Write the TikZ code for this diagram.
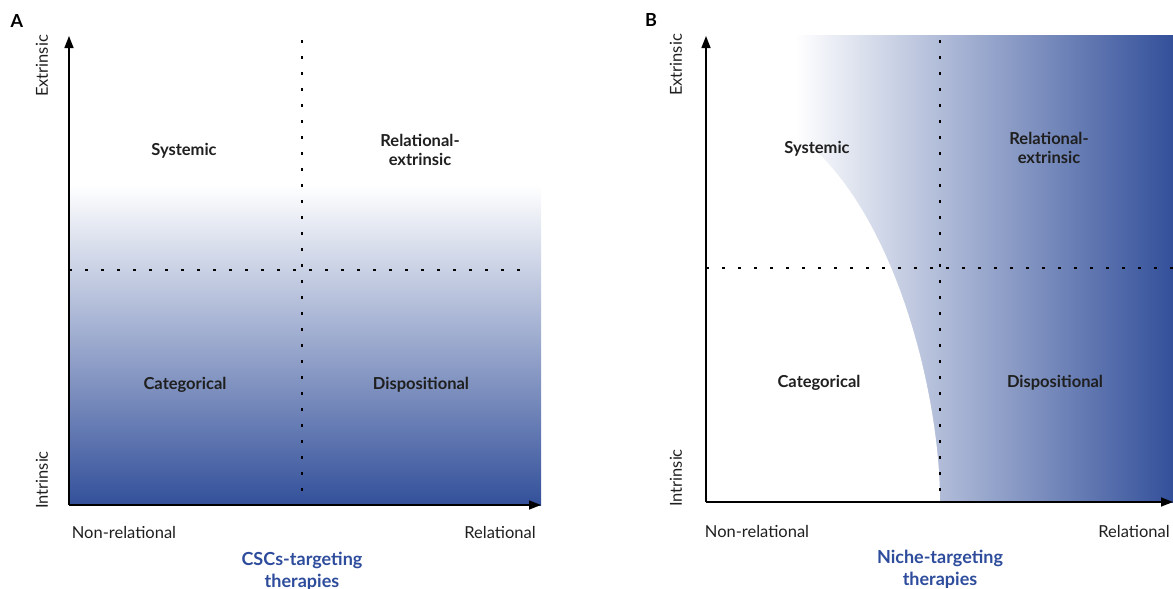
\documentclass[tikz,border=0pt]{standalone}
\usepackage{fontspec}
\setmainfont{Lato}
\usetikzlibrary{arrows.meta}
\definecolor{cscblue}{RGB}{51,80,154}
\definecolor{titleblue}{RGB}{46,76,156}
\tikzset{axis/.style={black, line width=1.4pt, -{Triangle[length=12pt,width=9pt]}},
         divider/.style={black, line width=1.5pt, dash pattern=on 2.5pt off 13.5pt},
         quad/.style={font=\fontsize{16.5}{18.5}\selectfont\bfseries, align=center, text=black!88},
         axlabel/.style={font=\fontsize{16.5}{18}\selectfont, text=black!88},
         panel/.style={font=\fontsize{18}{20}\selectfont\bfseries},
         therapy/.style={font=\fontsize{18}{22}\selectfont\bfseries, text=titleblue, align=center}}

\begin{document}
\begin{tikzpicture}[x=1pt,y=-1pt]
   \useasboundingbox (0,0) rectangle (1173,589);
   % A: CSCs-targeting
   \begin{scope}
    \coordinate (o) at (69,505);
    \coordinate (y) at (69,36);
    \coordinate (x) at (541,505);
    \coordinate (v1) at (302,40);
    \coordinate (v2) at (302,505);
    \coordinate (h1) at (69,270);
    \coordinate (h2) at (532,270);
    \shade[top color=white, bottom color=cscblue] (69,185) rectangle (541,505);
    \draw[divider] (v1) -- (v2);
    \draw[divider] (h1) -- (h2);
    \draw[axis] (o) -- (y);
    \draw[axis] (o) -- (x);
    \node[panel] (lab) at (17,21) {A};
    \node[axlabel, rotate=90] (ext) at (42,66) {Extrinsic};
    \node[axlabel, rotate=90] (int) at (42,480) {Intrinsic};
    \node[quad] (sys) at (184,151) {Systemic};
    \node[quad] (relext) at (420,150) {Relational-\\extrinsic};
    \node[quad] (cat) at (185,385) {Categorical};
    \node[quad] (disp) at (421,385) {Dispositional};
    \node[axlabel] (nonrel) at (124,532) {Non-relational};
    \node[axlabel] (rel) at (500,532) {Relational};
    \node[therapy, anchor=north] (ther) at (302,549) {CSCs-targeting\\therapies};
   \end{scope}
   % B: Niche-targeting
   \begin{scope}
    \coordinate (o) at (706,502);
    \coordinate (y) at (706,36);
    \coordinate (x) at (1173,502);
    \coordinate (v1) at (940,40);
    \coordinate (v2) at (940,502);
    \coordinate (h1) at (706,268);
    \coordinate (h2) at (1173,268);
    \shade[left color=white, right color=cscblue] (795,35) rectangle (1173,502);
    \fill[white] (o) -- (v2) .. controls (940,400) and (900,230) .. (815,150) -- (706,150) -- cycle;
    \draw[divider] (v1) -- (v2);
    \draw[divider] (h1) -- (h2);
    \draw[axis] (o) -- (y);
    \draw[axis] (o) -- (x);
    \node[panel] (lab) at (651,20) {B};
    \node[axlabel, rotate=90] (ext) at (676,65) {Extrinsic};
    \node[axlabel, rotate=90] (int) at (676,478) {Intrinsic};
    \node[quad] (sys) at (817,149) {Systemic};
    \node[quad] (relext) at (1049,148) {Relational-\\extrinsic};
    \node[quad] (cat) at (819,383) {Categorical};
    \node[quad] (disp) at (1055,383) {Dispositional};
    \node[axlabel] (nonrel) at (757,531) {Non-relational};
    \node[axlabel] (rel) at (1134,531) {Relational};
    \node[therapy, anchor=north] (ther) at (940,547) {Niche-targeting\\therapies};
   \end{scope}
\end{tikzpicture}
\end{document}
